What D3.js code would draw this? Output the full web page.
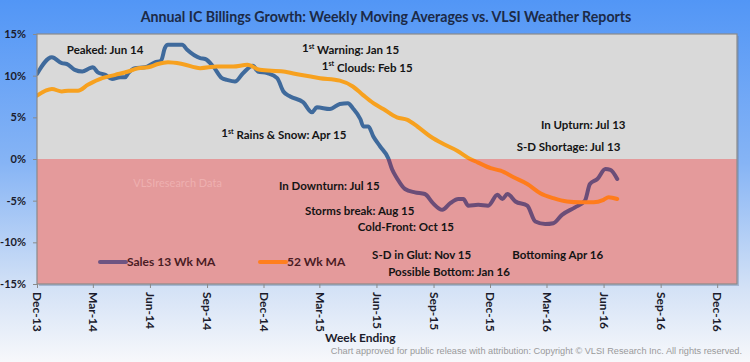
<!DOCTYPE html>
<html>
<head>
<meta charset="utf-8">
<script src="https://cdn.jsdelivr.net/npm/d3@7"></script>
<style>
  body { margin: 0; padding: 0; overflow: hidden; }
  svg { display: block; font-family: Lato, "Open Sans", sans-serif; }
</style>
</head>
<body>
<div id="chart-holder"></div>
<script>
// chart data
var salesDates = ["2013-12-01", "2013-12-25", "2014-01-10", "2014-01-18", "2014-01-31", "2014-02-12",
  "2014-02-24", "2014-03-01", "2014-03-09", "2014-03-21", "2014-04-01", "2014-04-14", "2014-04-22",
  "2014-04-27", "2014-05-08", "2014-05-24", "2014-06-09", "2014-06-19", "2014-06-25", "2014-06-30",
  "2014-07-23", "2014-07-31", "2014-08-21", "2014-08-29", "2014-09-11", "2014-09-25", "2014-10-03",
  "2014-10-16", "2014-10-29", "2014-11-14", "2014-11-22", "2014-12-07", "2014-12-23", "2015-01-02",
  "2015-01-13", "2015-02-03", "2015-02-17", "2015-02-25", "2015-03-18", "2015-04-03", "2015-04-16",
  "2015-04-24", "2015-05-06", "2015-05-11", "2015-05-19", "2015-05-27", "2015-06-07", "2015-06-20",
  "2015-06-26", "2015-07-04", "2015-07-17", "2015-08-02", "2015-08-18", "2015-08-31", "2015-09-15",
  "2015-09-28", "2015-10-11", "2015-10-19", "2015-10-27", "2015-11-12", "2015-11-28", "2015-12-13",
  "2015-12-21", "2015-12-29", "2016-01-11", "2016-01-30", "2016-02-12", "2016-02-28", "2016-03-12",
  "2016-03-26", "2016-04-16", "2016-05-02", "2016-05-10", "2016-05-22", "2016-06-04", "2016-06-12",
  "2016-06-23"];
var salesVals = [10.2, 12.2, 11.5, 11.4, 10.7, 10.5,
  10.9, 11.0, 10.4, 10.1, 9.6, 9.8, 9.8,
  10.3, 10.9, 11.0, 11.6, 11.8, 13.3, 13.7,
  13.7, 13.1, 12.1, 12.0, 11.1, 9.7, 9.5,
  9.3, 10.3, 11.2, 10.5, 10.3, 9.7, 8.1,
  7.5, 6.8, 5.6, 6.2, 6.0, 6.6, 6.7,
  6.1, 4.8, 3.9, 3.9, 2.7, 1.5, 0.1,
  -1.2, -2.3, -3.6, -4.0, -4.2, -5.3, -6.1,
  -5.3, -4.8, -4.8, -5.6, -5.5, -5.6, -4.3,
  -4.8, -4.2, -5.1, -5.6, -7.5, -7.8, -7.7,
  -6.7, -5.8, -5.0, -3.0, -2.4, -1.2, -1.3,
  -2.4];

var maDates = ["2013-12-01", "2013-12-25", "2014-01-10", "2014-01-20", "2014-02-05", "2014-02-21",
  "2014-03-16", "2014-04-06", "2014-04-27", "2014-05-13", "2014-05-29", "2014-06-14", "2014-06-30",
  "2014-07-23", "2014-08-21", "2014-09-17", "2014-10-13", "2014-11-05", "2014-11-25", "2015-01-02",
  "2015-01-29", "2015-03-02", "2015-04-03", "2015-04-24", "2015-05-10", "2015-05-27", "2015-06-12",
  "2015-07-04", "2015-07-21", "2015-08-06", "2015-08-27", "2015-09-17", "2015-10-09", "2015-10-30",
  "2015-11-11", "2015-12-02", "2015-12-18", "2016-01-08", "2016-01-30", "2016-02-20", "2016-03-12",
  "2016-04-03", "2016-04-25", "2016-05-16", "2016-06-01", "2016-06-09", "2016-06-23"];
var maVals = [7.6, 8.4, 8.1, 8.2, 8.2, 8.9,
  9.7, 10.1, 10.5, 10.9, 11.0, 11.4, 11.6,
  11.4, 10.9, 11.1, 11.1, 11.3, 10.7, 10.5,
  10.1, 9.7, 9.4, 8.7, 7.7, 6.7, 6.0,
  5.0, 4.7, 3.9, 2.7, 1.8, 1.0, 0.0,
  -0.4, -1.1, -1.4, -2.2, -3.0, -4.1, -4.7,
  -5.1, -5.2, -5.2, -4.9, -4.6, -4.8];

var yTicks = [15, 10, 5, 0, -5, -10, -15];
var xTickDates = ["2013-12-01", "2014-03-01", "2014-06-01", "2014-09-01", "2014-12-01", "2015-03-01",
  "2015-06-01", "2015-09-01", "2015-12-01", "2016-03-01", "2016-06-01", "2016-09-01", "2016-12-01"];

// weather report notes: text, anchor date, anchor value
var notes = [
  { text: "Peaked: Jun 14", date: "2014-01-18", value: 13.1 },
  { sup: true, text: "Warning: Jan 15", date: "2015-02-01", value: 13.3 },
  { sup: true, text: "Clouds: Feb 15", date: "2015-03-05", value: 11.2 },
  { sup: true, text: "Rains & Snow: Apr 15", date: "2014-09-24", value: 3.1 },
  { text: "In Upturn: Jul 13", date: "2016-02-21", value: 4.1 },
  { text: "S-D Shortage: Jul 13", date: "2016-01-13", value: 1.45 },
  { text: "In Downturn: Jul 15", date: "2014-12-26", value: -3.25 },
  { text: "Storms break: Aug 15", date: "2015-02-06", value: -6.25 },
  { text: "Cold-Front: Oct 15", date: "2015-05-02", value: -8.15 },
  { text: "S-D in Glut: Nov 15", date: "2015-05-25", value: -11.5 },
  { text: "Bottoming Apr 16", date: "2016-01-06", value: -11.5 },
  { text: "Possible Bottom: Jan 16", date: "2015-06-20", value: -13.55 }
];

var W = 750, H = 362;
var margin = { top: 34, right: 13, bottom: 78, left: 37 };

var parse = d3.utcParse("%Y-%m-%d");
var fmt = d3.utcFormat("%b-%y");

var svg = d3.select("#chart-holder")
  .append("svg")
  .attr("width", W)
  .attr("height", H);

var defs = svg.append("defs");
var grad = defs.append("linearGradient")
  .attr("id", "bg")
  .attr("x1", 0).attr("y1", 0).attr("x2", 0).attr("y2", 1);
grad.append("stop").attr("offset", "0%").attr("stop-color", "#5296f6");
grad.append("stop").attr("offset", "45%").attr("stop-color", "#86b4f5");
grad.append("stop").attr("offset", "80%").attr("stop-color", "#d4e2f6");
grad.append("stop").attr("offset", "100%").attr("stop-color", "#f7f8fb");

svg.append("rect")
  .attr("width", W).attr("height", H)
  .attr("fill", "url(#bg)");

// scales
var x = d3.scaleUtc()
  .domain([parse("2013-12-01"), parse("2017-01-02")])
  .range([margin.left, W - margin.right]);

var y = d3.scaleLinear()
  .domain([-15, 15])
  .range([H - margin.bottom, margin.top]);

var x0 = x.range()[0], x1 = x.range()[1];

// plot area: grey above zero, pink below
defs.append("clipPath").attr("id", "clipPos")
  .append("rect")
  .attr("x", x0).attr("y", y(15))
  .attr("width", x1 - x0).attr("height", y(0) - y(15));
defs.append("clipPath").attr("id", "clipNeg")
  .append("rect")
  .attr("x", x0).attr("y", y(0))
  .attr("width", x1 - x0).attr("height", y(-15) - y(0));

// shadow of the plot box
svg.append("rect")
  .attr("x", x0 + 2).attr("y", y(15) + 2)
  .attr("width", x1 - x0).attr("height", y(-15) - y(15))
  .attr("fill", "#6f86a8").attr("opacity", 0.45);

svg.append("rect")
  .attr("x", x0).attr("y", y(15))
  .attr("width", x1 - x0).attr("height", y(0) - y(15))
  .attr("fill", "#d9d9d9");
svg.append("rect")
  .attr("x", x0).attr("y", y(0))
  .attr("width", x1 - x0).attr("height", y(-15) - y(0))
  .attr("fill", "#e49a9b");

// watermark
svg.append("text")
  .attr("x", x(parse("2014-05-05")))
  .attr("y", y(-2.9))
  .attr("dy", "0.35em")
  .attr("font-size", 11)
  .attr("fill", "#eeb0b0")
  .text("VLSIresearch Data");

// lines
var salesData = salesDates.map(function (d, i) { return { date: parse(d), value: salesVals[i] }; });
var maData = maDates.map(function (d, i) { return { date: parse(d), value: maVals[i] }; });

var line = d3.line()
  .x(function (d) { return x(d.date); })
  .y(function (d) { return y(d.value); })
  .curve(d3.curveMonotoneX);

function drawLine(data, colPos, colNeg) {
  svg.append("path")
    .datum(data)
    .attr("clip-path", "url(#clipPos)")
    .attr("d", line)
    .attr("fill", "none")
    .attr("stroke", colPos)
    .attr("stroke-width", 4)
    .attr("stroke-linejoin", "round")
    .attr("stroke-linecap", "round");
  svg.append("path")
    .datum(data)
    .attr("clip-path", "url(#clipNeg)")
    .attr("d", line)
    .attr("fill", "none")
    .attr("stroke", colNeg)
    .attr("stroke-width", 4)
    .attr("stroke-linejoin", "round")
    .attr("stroke-linecap", "round");
}
drawLine(salesData, "#3f6a9c", "#6b4d78");
drawLine(maData, "#f7a11f", "#ff7c1c");

// plot border
svg.append("rect")
  .attr("x", x0).attr("y", y(15))
  .attr("width", x1 - x0).attr("height", y(-15) - y(15))
  .attr("fill", "none")
  .attr("stroke", "#8a8a8a")
  .attr("stroke-width", 1.2);

// Y axis
var yAxis = svg.append("g")
  .attr("transform", "translate(" + x0 + ",0)")
  .call(d3.axisLeft(y).tickValues(yTicks).tickSize(4).tickPadding(7)
    .tickFormat(function (d) { return d + "%"; }));
yAxis.select(".domain").remove();
yAxis.selectAll("line").attr("stroke", "#8a8a8a");
yAxis.selectAll("text")
  .attr("font-family", "Lato, sans-serif")
  .attr("font-size", 11)
  .attr("font-weight", "bold")
  .attr("fill", "#1b1b2b");

// X axis
var xAxis = svg.append("g")
  .attr("transform", "translate(0," + y(-15) + ")")
  .call(d3.axisBottom(x).tickValues(xTickDates.map(parse)).tickSize(4).tickFormat(fmt));
xAxis.select(".domain").remove();
xAxis.selectAll("line").attr("stroke", "#8a8a8a");
xAxis.selectAll("text")
  .attr("font-family", "Lato, sans-serif")
  .attr("font-size", 12)
  .attr("font-weight", "bold")
  .attr("fill", "#1b1b2b")
  .attr("transform", "rotate(90)")
  .attr("y", 0)
  .attr("x", 8)
  .attr("dy", "0.35em")
  .style("text-anchor", "start");

// notes
notes.forEach(function (n) {
  var t = svg.append("text")
    .attr("x", x(parse(n.date)))
    .attr("y", y(n.value))
    .attr("dy", "0.35em")
    .attr("font-size", 11.5)
    .attr("font-weight", "bold")
    .attr("fill", "#141414");
  if (n.sup) {
    t.append("tspan").text("1");
    t.append("tspan").attr("font-size", 7).attr("dy", "-0.5em").text("st");
    t.append("tspan").attr("dy", "0.5em").text(" " + n.text);
  } else {
    t.text(n.text);
  }
});

// legend
var legend = [
  { label: "Sales 13 Wk MA", color: "#6e5482", x: 100 },
  { label: "52 Wk MA", color: "#ff7f1f", x: 260 }
];
legend.forEach(function (l) {
  svg.append("line")
    .attr("x1", l.x).attr("x2", l.x + 26)
    .attr("y1", 262).attr("y2", 262)
    .attr("stroke", l.color)
    .attr("stroke-width", 4)
    .attr("stroke-linecap", "round");
  svg.append("text")
    .attr("x", l.x + 27).attr("y", 262)
    .attr("dy", "0.35em")
    .attr("font-size", 12)
    .attr("font-weight", "bold")
    .attr("fill", "#4a1c24")
    .text(l.label);
});

// titles
svg.append("text")
  .attr("x", 386).attr("y", 17)
  .attr("dy", "0.35em")
  .attr("text-anchor", "middle")
  .attr("font-size", 14.2)
  .attr("font-weight", "bold")
  .attr("fill", "#1c2a47")
  .text("Annual IC Billings Growth: Weekly Moving Averages vs. VLSI Weather Reports");

svg.append("text")
  .attr("x", 325).attr("y", 338)
  .attr("dy", "0.35em")
  .attr("font-size", 12)
  .attr("font-weight", "bold")
  .attr("fill", "#1b1b2b")
  .text("Week Ending");

svg.append("text")
  .attr("x", 742).attr("y", 351)
  .attr("dy", "0.35em")
  .attr("text-anchor", "end")
  .attr("font-family", "Liberation Sans, Arial, sans-serif")
  .attr("font-size", 9.2)
  .attr("fill", "#9a9a9a")
  .text("Chart approved  for public release with attribution:  Copyright \u00A9 VLSI Research Inc.  All rights reserved.");
</script>
</body>
</html>
